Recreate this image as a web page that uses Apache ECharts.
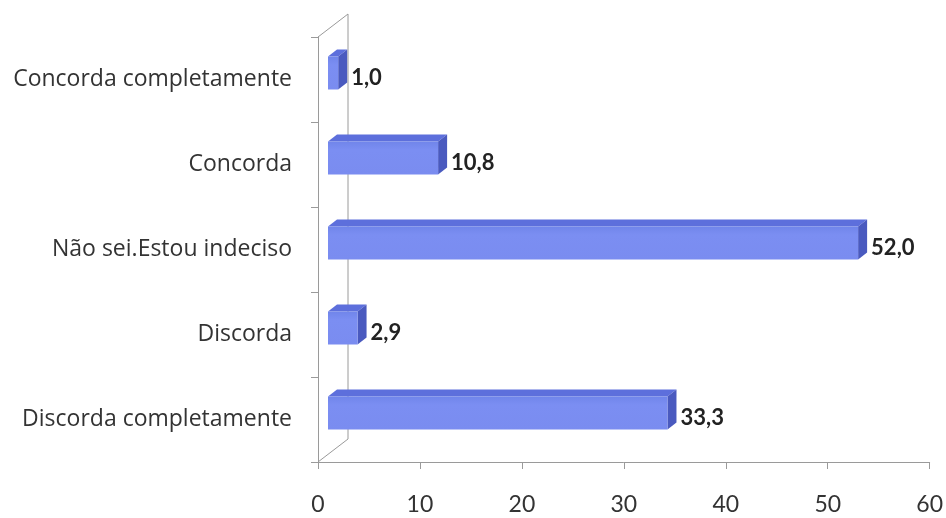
<!DOCTYPE html>
<html>
<head>
<meta charset="utf-8">
<title>Grau de concordância</title>
<script src="https://cdn.jsdelivr.net/npm/echarts@6/dist/echarts.min.js"></script>
<style>
  html, body { margin: 0; padding: 0; background: #ffffff; }
  #chart { width: 946px; height: 518px; }
</style>
</head>
<body>
<div id="chart"></div>
<script>
// Response categories, top to bottom
const categories = [
  'Concorda completamente',
  'Concorda',
  'Não sei.Estou indeciso',
  'Discorda',
  'Discorda completamente'
];
// Percentage of respondents per category
const values = [1.0, 10.8, 52.0, 2.9, 33.3];
// Value axis ticks
const axisMin = 0;
const axisMax = 60;
const axisStep = 10;

// Pseudo-3D geometry (pixels)
const GRID = { left: 318, right: 14, top: 37, bottom: 56 };
const WALL = { dx: 30, dy: -23 };      // offset of the back wall
const PLANE = { dx: 10, dy: -6.5 };    // plane in which the bars sit
const BAR_H = 33;                      // front face height
const DEPTH = { dx: 9, dy: -7 };       // bar thickness

const FRONT = '#7b8ef2';
const TOP = '#5d6fdc';
const SIDE = '#4a5abf';
const AXIS = '#9a9a9a';
const FONT = 'Lato, "Open Sans", sans-serif';
const CAT_FONT = '"Open Sans", Lato, sans-serif';

const chart = echarts.init(document.getElementById('chart'), null, { renderer: 'canvas' });

function renderBar(params, api) {
  const idx = api.value(0);
  const val = api.value(1);
  const start = api.coord([0, idx]);
  const end = api.coord([val, idx]);
  const x0 = start[0] + PLANE.dx;
  const x1 = end[0] + PLANE.dx;
  const yc = start[1] + PLANE.dy;
  const yt = yc - BAR_H / 2;
  const yb = yc + BAR_H / 2;
  const dx = DEPTH.dx, dy = DEPTH.dy;
  return {
    type: 'group',
    children: [
      {
        type: 'polygon',
        shape: { points: [[x0, yt], [x1, yt], [x1 + dx, yt + dy], [x0 + dx, yt + dy]] },
        style: { fill: TOP }
      },
      {
        type: 'polygon',
        shape: { points: [[x1, yt], [x1 + dx, yt + dy], [x1 + dx, yb + dy], [x1, yb]] },
        style: { fill: SIDE }
      },
      {
        type: 'rect',
        shape: { x: x0, y: yt, width: x1 - x0, height: BAR_H },
        style: {
          fill: new echarts.graphic.LinearGradient(0, 0, 0, 1, [
            { offset: 0, color: '#7085ea' },
            { offset: 0.25, color: FRONT },
            { offset: 1, color: '#7a8cf0' }
          ])
        }
      },
      {
        type: 'text',
        style: {
          x: x1 + dx + 4,
          y: start[1] - 2,
          text: val.toFixed(1).replace('.', ','),
          fill: '#222222',
          font: 'bold 22px ' + FONT,
          verticalAlign: 'middle',
          align: 'left'
        }
      }
    ]
  };
}

// Back-wall outline, derived from the grid box
const W = 946, H = 518;
const fx = GRID.left, fTop = GRID.top, fBot = H - GRID.bottom;
const wallLines = [
  [[fx + WALL.dx, fTop + WALL.dy], [fx + WALL.dx, fBot + WALL.dy]],
  [[fx, fTop], [fx + WALL.dx, fTop + WALL.dy]],
  [[fx, fBot], [fx + WALL.dx, fBot + WALL.dy]]
].map(function (pts) {
  return {
    type: 'line',
    shape: { x1: pts[0][0], y1: pts[0][1], x2: pts[1][0], y2: pts[1][1] },
    style: { stroke: AXIS, lineWidth: 1 },
    z: 0
  };
});

chart.setOption({
  backgroundColor: '#ffffff',
  animation: false,
  textStyle: { fontFamily: FONT },
  grid: { left: GRID.left, right: GRID.right, top: GRID.top, bottom: GRID.bottom, containLabel: false },
  xAxis: {
    type: 'value',
    min: axisMin,
    max: axisMax,
    interval: axisStep,
    axisLine: { show: true, lineStyle: { color: AXIS, width: 1 } },
    axisTick: { show: true, length: 7, lineStyle: { color: AXIS } },
    splitLine: { show: false },
    axisLabel: { color: '#333333', fontSize: 23, margin: 31, fontFamily: FONT }
  },
  yAxis: {
    type: 'category',
    data: categories,
    inverse: true,
    axisLine: { show: true, lineStyle: { color: AXIS, width: 1 } },
    axisTick: { show: true, length: 7, lineStyle: { color: AXIS } },
    axisLabel: { color: '#333333', fontSize: 23, margin: 26, fontFamily: CAT_FONT }
  },
  graphic: wallLines,
  series: [{
    type: 'custom',
    renderItem: renderBar,
    encode: { x: 1, y: 0 },
    data: values.map(function (v, i) { return [i, v]; }),
    z: 5
  }]
});
</script>
</body>
</html>
